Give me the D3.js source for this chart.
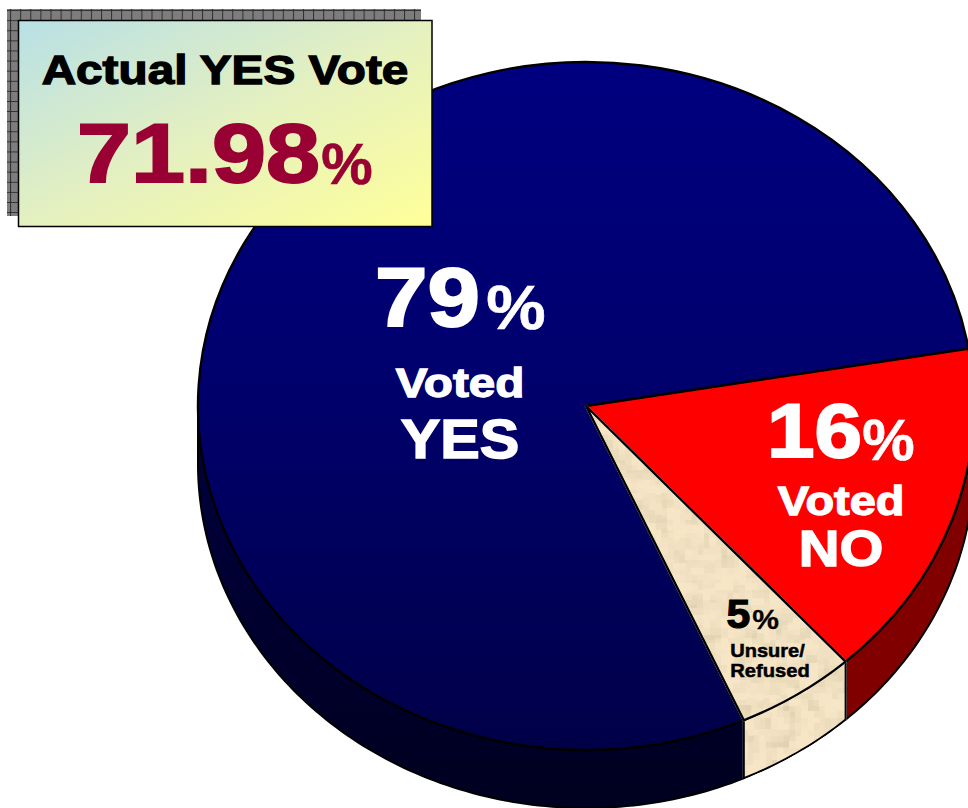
<!DOCTYPE html>
<html>
<head>
<meta charset="utf-8">
<script src="https://cdn.jsdelivr.net/npm/d3@7"></script>
<style>
  html, body { margin: 0; padding: 0; background: #fff; overflow: hidden; }
  svg { display: block; }
  text { font-family: "Liberation Sans", Arial, sans-serif; font-weight: 700; }
</style>
</head>
<body>
<div id="chart"></div>
<script>
// Poll result and the official vote figure
const categories = ["Voted YES", "Voted NO", "Unsure/Refused"];
const values = [79, 16, 5];
const actualLabel = "Actual YES Vote";
const actualValue = "71.98";

const width = 968, height = 808;
const deg = Math.PI / 180;
const cx = 586, cy = 406, rx = 388, ry = 344, depth = 58;
const firstSliceStart = 156 * deg;

const svg = d3.select("#chart").append("svg")
  .attr("width", width).attr("height", height)
  .attr("viewBox", [0, 0, width, height]);
const defs = svg.append("defs");

function linear(id, x2, y2, stops) {
  const g = defs.append("linearGradient").attr("id", id)
    .attr("x1", 0).attr("y1", 0).attr("x2", x2).attr("y2", y2);
  stops.forEach(([o, c]) => g.append("stop").attr("offset", o).attr("stop-color", c));
}
linear("blueTop", 0, 1, [[0, "#000080"], [0.45, "#00006e"], [1, "#000048"]]);
linear("blueWall", 0, 1, [[0, "#000040"], [1, "#000020"]]);
linear("boxFill", 1, 1, [[0, "#b8e0e6"], [0.5, "#e4f0c0"], [1, "#ffff99"]]);

// Blocky parchment texture for the undecided slice
const parchment = defs.append("filter").attr("id", "parchment")
  .attr("filterUnits", "userSpaceOnUse")
  .attr("x", -1000).attr("y", -1000).attr("width", 3000).attr("height", 3000)
  .attr("color-interpolation-filters", "sRGB");
parchment.append("feTurbulence").attr("type", "fractalNoise")
  .attr("baseFrequency", 0.06).attr("numOctaves", 2).attr("seed", 7).attr("result", "noise");
parchment.append("feFlood").attr("x", 0).attr("y", 0).attr("width", 1).attr("height", 1)
  .attr("flood-color", "#000");
parchment.append("feComposite").attr("width", 6).attr("height", 6).attr("result", "cell");
parchment.append("feTile").attr("in", "cell").attr("result", "grid");
parchment.append("feComposite").attr("in", "noise").attr("in2", "grid").attr("operator", "in");
parchment.append("feMorphology").attr("operator", "dilate").attr("radius", 3).attr("result", "blocks");
parchment.append("feColorMatrix").attr("in", "blocks").attr("type", "matrix")
  .attr("values", "0.22 0 0 0 0.87  0.22 0 0 0 0.87  0.28 0 0 0 0.84  0 0 0 0 1").attr("result", "tint");
parchment.append("feBlend").attr("in", "SourceGraphic").attr("in2", "tint")
  .attr("mode", "multiply").attr("result", "textured");
parchment.append("feComposite").attr("in", "textured").attr("in2", "SourceAlpha").attr("operator", "in");

// Grey dithered, cross-hatched tile behind the call-out box
const dither = defs.append("pattern").attr("id", "dither")
  .attr("patternUnits", "userSpaceOnUse").attr("width", 2).attr("height", 2);
dither.append("rect").attr("width", 2).attr("height", 2).attr("fill", "#8e8e8e");
dither.append("path").attr("d", "M0 0h1v1h-1zM1 1h1v1h-1z").attr("fill", "#6c6c6c");
const hatch = defs.append("pattern").attr("id", "hatch")
  .attr("patternUnits", "userSpaceOnUse").attr("width", 10.1).attr("height", 10.1);
hatch.append("rect").attr("width", 10.1).attr("height", 10.1).attr("fill", "url(#dither)");
hatch.append("path").attr("d", "M0 0.5H10.1M0.5 0V10.1")
  .attr("stroke", "#2e2e2e").attr("stroke-width", 1).attr("fill", "none");

const sliceFill = ["url(#blueTop)", "#ff0000", "#f6e6c6"];
const wallFill = ["url(#blueWall)", "#800000", "#f6e6c6"];

const pie = d3.pie().sort(null)
  .startAngle(firstSliceStart).endAngle(firstSliceStart + 2 * Math.PI);
const slices = pie(values);

// Side wall of a slice: only the front half of the rim (90° to 270°) shows
const rim = a => [cx + rx * Math.sin(a), cy - ry * Math.cos(a)];
function wallPath(s) {
  const turns = [0, 1].map(k => k * 2 * Math.PI);
  const parts = [];
  turns.forEach(t => {
    const a0 = Math.max(s.startAngle - t, 90 * deg);
    const a1 = Math.min(s.endAngle - t, 270 * deg);
    if (a1 > a0) parts.push([a0, a1]);
  });
  return parts.map(([a0, a1]) => {
    const n = Math.ceil((a1 - a0) / deg);
    const upper = d3.range(n + 1).map(i => rim(a0 + (a1 - a0) * i / n));
    const lower = upper.slice().reverse().map(([x, y]) => [x, y + depth]);
    return d3.line()(upper.concat(lower)) + "Z";
  }).join("");
}

const walls = svg.append("g").attr("stroke", "#000").attr("stroke-width", 2).attr("stroke-linejoin", "round");
walls.selectAll("path").data(slices).join("path")
  .attr("d", wallPath)
  .attr("fill", (d, i) => wallFill[i])
  .attr("filter", (d, i) => i === 2 ? "url(#parchment)" : null);

const arc = d3.arc().innerRadius(0).outerRadius(rx);
const faces = svg.append("g").attr("transform", `translate(${cx},${cy}) scale(1,${ry / rx})`);
faces.selectAll("path").data(slices).join("path")
  .attr("d", arc)
  .attr("fill", (d, i) => sliceFill[i])
  .attr("stroke", "#000").attr("stroke-width", 2.4)
  .attr("stroke-linejoin", "round")
  .attr("vector-effect", "non-scaling-stroke")
  .attr("filter", (d, i) => i === 2 ? "url(#parchment)" : null);

// Text is stretched to a measured span and thickened with a stroke to get the
// heavy black face; the span and size allow for the stroke's extra width
function label(str, x, y, w, size, fill, weight = 1) {
  svg.append("text")
    .attr("x", x + weight / 2).attr("y", y - weight / 2)
    .attr("font-size", size - weight / 0.7)
    .attr("textLength", w - weight).attr("lengthAdjust", "spacingAndGlyphs")
    .attr("fill", fill)
    .attr("stroke", fill).attr("stroke-width", weight)
    .attr("stroke-linejoin", "miter")
    .text(str);
}

label(`${values[0]}`, 374, 327, 107, 86, "#fff", 2);
label("%", 486, 329, 60, 64, "#fff", 0.6);
label("Voted", 395, 398, 130, 43, "#fff", 1.3);
label("YES", 400, 459, 120, 57, "#fff", 1.5);

label(`${values[1]}`, 766, 458, 97, 79, "#fff", 2);
label("%", 862, 460, 53, 58, "#fff", 0.6);
label("Voted", 777, 516, 128, 43, "#fff", 1.3);
label("NO", 798, 567, 86, 53, "#fff", 1.5);

label(`${values[2]}`, 726, 629, 25, 43, "#000", 1.2);
label("%", 752, 629, 27, 28, "#000", 0.3);
label("Unsure/", 730, 657, 75, 19, "#000", 0.5);
label("Refused", 730, 677, 80, 19, "#000", 0.5);

// Call-out box with the official result
svg.append("rect").attr("x", 7).attr("y", 9).attr("width", 414).attr("height", 207).attr("fill", "url(#hatch)");
svg.append("rect").attr("x", 18.5).attr("y", 20.5).attr("width", 413.5).attr("height", 206)
  .attr("fill", "url(#boxFill)").attr("stroke", "#000").attr("stroke-width", 1.5);

label(actualLabel, 41, 85, 368, 42, "#000", 1.3);
label(actualValue, 76, 183, 245, 87, "#990033", 2);
label("%", 321, 184, 52, 58, "#990033", 0.6);
</script>
</body>
</html>
